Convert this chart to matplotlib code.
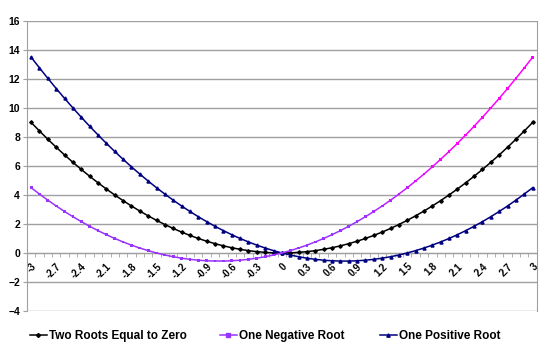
import numpy as np
import matplotlib
matplotlib.use("Agg")
import matplotlib.pyplot as plt
from matplotlib.collections import LineCollection
from matplotlib.colors import to_rgb
import matplotlib.lines as mlines

plt.rcParams["font.family"] = ["Liberation Sans", "DejaVu Sans"]

# x categories -3.0 .. 3.0 step 0.1
X_VALUES = [round(-3.0 + 0.1 * i, 1) for i in range(61)]

TWO_ZERO = [9.00, 8.41, 7.84, 7.29, 6.76, 6.25, 5.76, 5.29, 4.84, 4.41,
            4.00, 3.61, 3.24, 2.89, 2.56, 2.25, 1.96, 1.69, 1.44, 1.21,
            1.00, 0.81, 0.64, 0.49, 0.36, 0.25, 0.16, 0.09, 0.04, 0.01,
            0.00,
            0.01, 0.04, 0.09, 0.16, 0.25, 0.36, 0.49, 0.64, 0.81, 1.00,
            1.21, 1.44, 1.69, 1.96, 2.25, 2.56, 2.89, 3.24, 3.61, 4.00,
            4.41, 4.84, 5.29, 5.76, 6.25, 6.76, 7.29, 7.84, 8.41, 9.00]

ONE_NEG = [4.50, 4.06, 3.64, 3.24, 2.86, 2.50, 2.16, 1.84, 1.54, 1.26,
           1.00, 0.76, 0.54, 0.34, 0.16, 0.00, -0.14, -0.26, -0.36, -0.44,
           -0.50, -0.54, -0.56, -0.56, -0.54, -0.50, -0.44, -0.36, -0.26, -0.14,
           0.00,
           0.16, 0.34, 0.54, 0.76, 1.00, 1.26, 1.54, 1.84, 2.16, 2.50,
           2.86, 3.24, 3.64, 4.06, 4.50, 4.96, 5.44, 5.94, 6.46, 7.00,
           7.56, 8.14, 8.74, 9.36, 10.00, 10.66, 11.34, 12.04, 12.76, 13.50]

ONE_POS = [13.50, 12.76, 12.04, 11.34, 10.66, 10.00, 9.36, 8.74, 8.14, 7.56,
           7.00, 6.46, 5.94, 5.44, 4.96, 4.50, 4.06, 3.64, 3.24, 2.86,
           2.50, 2.16, 1.84, 1.54, 1.26, 1.00, 0.76, 0.54, 0.34, 0.16,
           0.00,
           -0.14, -0.26, -0.36, -0.44, -0.50, -0.54, -0.56, -0.56, -0.54, -0.50,
           -0.44, -0.36, -0.26, -0.14, 0.00, 0.16, 0.34, 0.54, 0.76, 1.00,
           1.26, 1.54, 1.84, 2.16, 2.50, 2.86, 3.24, 3.64, 4.06, 4.50]

TICK_LABELS = [("%g" % v) for v in X_VALUES[::3]]

C_BLACK = "#000000"
C_PURPLE = "#9933FF"
C_MAGENTA = "#FF00FF"
C_NAVY = "#000080"
GRID = "#A0A0A0"

fig = plt.figure(figsize=(5.5, 3.49), dpi=100)
ax = fig.add_axes([0.049, 0.109, 0.927, 0.831])

idx = np.arange(len(X_VALUES))

ax.plot(idx, TWO_ZERO, color=C_BLACK, lw=1.1, marker="D", ms=1.8, zorder=3)
ax.plot(idx, ONE_POS, color=C_NAVY, lw=1.1, marker="^", ms=2.2, zorder=4)

# "One Negative Root" goes from purple on the left to magenta on the right
pts = np.column_stack([idx, ONE_NEG])
segs = np.stack([pts[:-1], pts[1:]], axis=1)
c0, c1 = np.array(to_rgb(C_PURPLE)), np.array(to_rgb(C_MAGENTA))
mid = (idx[:-1] + idx[1:]) / 2
t = np.clip((mid - 39) / 12, 0, 1)
seg_cols = [tuple(c0 * (1 - a) + c1 * a) for a in t]
ax.add_collection(LineCollection(segs, colors=seg_cols, lw=1.1, zorder=5))
tp = np.clip((idx - 39) / 12, 0, 1)
pt_cols = [tuple(c0 * (1 - a) + c1 * a) for a in tp]
ax.scatter(idx, ONE_NEG, c=pt_cols, marker="s", s=4, zorder=5, linewidths=0)

ax.set_xlim(-0.5, len(X_VALUES) - 0.5)
ax.set_ylim(-4, 16)
ax.set_yticks(np.arange(-4, 17, 2))
for lbl in ax.get_yticklabels():
    lbl.set_fontweight("bold")
    lbl.set_fontsize(7.5)
ax.yaxis.grid(True, color=GRID, lw=1)
ax.set_axisbelow(True)
ax.tick_params(axis="y", length=3, color=GRID, pad=2)

ax.spines["bottom"].set_position(("data", 0))
for s in ["left", "right", "top", "bottom"]:
    ax.spines[s].set_color(GRID)
ax.spines["top"].set_visible(False)

ax.set_xticks(idx[::3])
ax.set_xticklabels(TICK_LABELS, rotation=45, ha="right", va="top",
                   rotation_mode="anchor", fontsize=7, fontweight="bold")
ax.set_xticks(np.arange(-0.5, len(X_VALUES), 1), minor=True)
ax.tick_params(axis="x", which="major", length=0, pad=6)
ax.tick_params(axis="x", which="minor", length=3, color=GRID, direction="out")

# legend entries, each placed at its own x like the reference
entries = [
    (mlines.Line2D([], [], color=C_BLACK, marker="D", ms=2.0, lw=1.1,
                   label="Two Roots Equal to Zero"), 30),
    (mlines.Line2D([], [], color=C_PURPLE, marker="s", ms=2.2, lw=1.1,
                   label="One Negative Root"), 220),
    (mlines.Line2D([], [], color=C_NAVY, marker="^", ms=2.4, lw=1.1,
                   label="One Positive Root"), 380),
]
for h, xpix in entries:
    leg = fig.legend(handles=[h], loc="center left",
                     bbox_to_anchor=(xpix / 550, 0.036), borderpad=0,
                     borderaxespad=0, frameon=False, fontsize=8.5,
                     handlelength=1.4, handletextpad=0.2)
    for txt in leg.get_texts():
        txt.set_fontweight("bold")

fig.savefig("out.png", dpi=100)
